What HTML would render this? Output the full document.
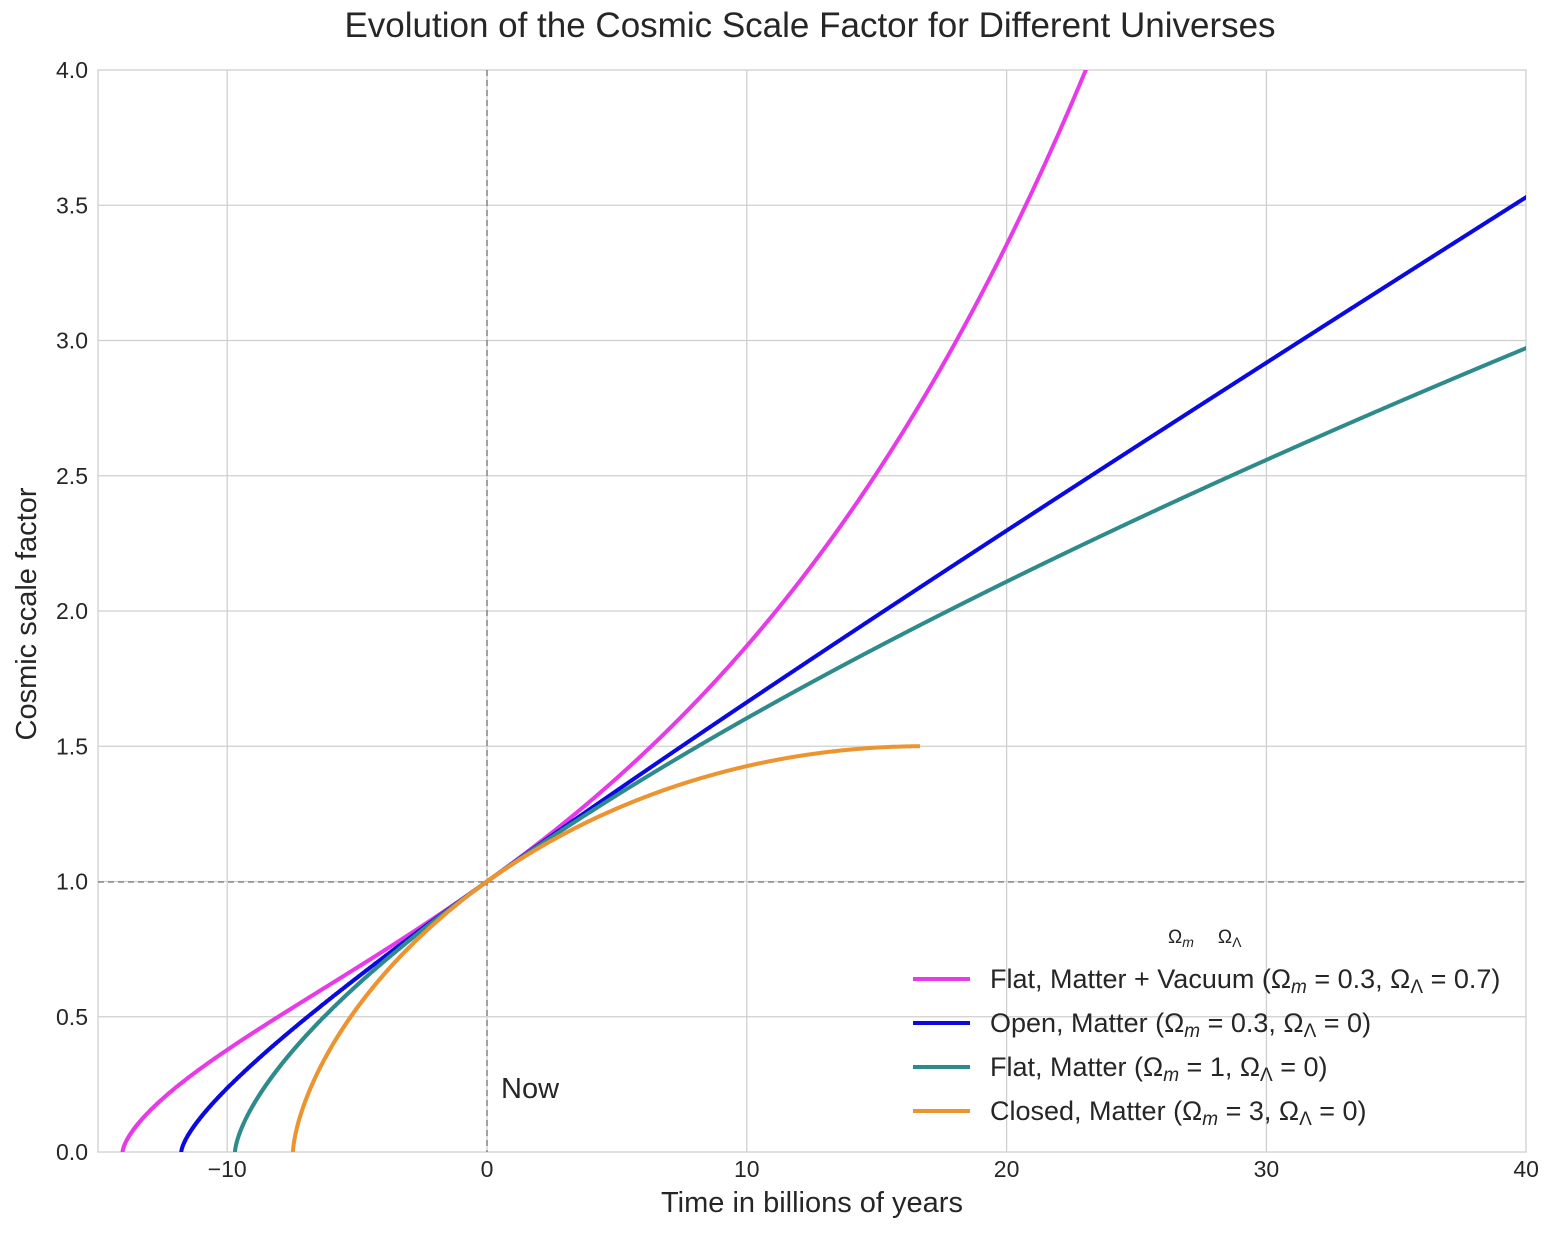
<!DOCTYPE html>
<html><head><meta charset="utf-8">
<style>
body{margin:0;background:#fff;}
svg text{font-family:"Liberation Sans","DejaVu Sans",sans-serif;fill:#262626;}
</style></head>
<body>
<svg id="s" width="1548" height="1234" xmlns="http://www.w3.org/2000/svg">
<rect width="1548" height="1234" fill="#fff"/>
<defs><clipPath id="c"><rect x="98" y="70" width="1428" height="1082"/></clipPath></defs>
<g id="grid" stroke="#cfcfcf" stroke-width="1.3"></g>
<rect x="98" y="70" width="1428" height="1082" fill="none" stroke="#cfcfcf" stroke-width="1.3"/>
<line x1="487" y1="70" x2="487" y2="1152" stroke="#777" stroke-width="1.3" stroke-dasharray="6,4"/>
<line x1="98" y1="882" x2="1526" y2="882" stroke="#777" stroke-width="1.3" stroke-dasharray="6,4"/>
<g id="curves" clip-path="url(#c)" fill="none" stroke-width="4" stroke-linejoin="round"></g>
<g id="ticks" font-size="23"></g>
<text x="810" y="37" font-size="35" text-anchor="middle">Evolution of the Cosmic Scale Factor for Different Universes</text>
<text x="812" y="1212" font-size="29" text-anchor="middle">Time in billions of years</text>
<text transform="translate(36,614) rotate(-90)" font-size="29" text-anchor="middle">Cosmic scale factor</text>
<text x="501" y="1098" font-size="29">Now</text>
<g font-size="27">
<text x="1168" y="943" font-size="19">Ω<tspan font-size="14" font-style="italic" dy="4">m</tspan><tspan dy="-4" dx="24">Ω</tspan><tspan font-size="14" dy="4">Λ</tspan></text>
<line x1="913" y1="979" x2="970" y2="979" stroke="#e83ae8" stroke-width="4"/>
<text x="990" y="988">Flat, Matter + Vacuum (Ω<tspan font-size="19" font-style="italic" dy="5">m</tspan><tspan dy="-5"> = 0.3, Ω</tspan><tspan font-size="19" dy="5">Λ</tspan><tspan dy="-5"> = 0.7)</tspan></text>
<line x1="913" y1="1023" x2="970" y2="1023" stroke="#0a0ae0" stroke-width="4"/>
<text x="990" y="1032">Open, Matter (Ω<tspan font-size="19" font-style="italic" dy="5">m</tspan><tspan dy="-5"> = 0.3, Ω</tspan><tspan font-size="19" dy="5">Λ</tspan><tspan dy="-5"> = 0)</tspan></text>
<line x1="913" y1="1067" x2="970" y2="1067" stroke="#2e8b8b" stroke-width="4"/>
<text x="990" y="1076">Flat, Matter (Ω<tspan font-size="19" font-style="italic" dy="5">m</tspan><tspan dy="-5"> = 1, Ω</tspan><tspan font-size="19" dy="5">Λ</tspan><tspan dy="-5"> = 0)</tspan></text>
<line x1="913" y1="1111" x2="970" y2="1111" stroke="#eb9430" stroke-width="4"/>
<text x="990" y="1120">Closed, Matter (Ω<tspan font-size="19" font-style="italic" dy="5">m</tspan><tspan dy="-5"> = 3, Ω</tspan><tspan font-size="19" dy="5">Λ</tspan><tspan dy="-5"> = 0)</tspan></text>
</g>
</svg>
<script>
var NS="http://www.w3.org/2000/svg";
function X(t){return 487+t*25.98;}
function Y(a){return 1152-a*270.5;}
var g=document.getElementById('grid'),tk=document.getElementById('ticks');
function el(p,n,at,txt){var e=document.createElementNS(NS,n);for(var k in at)e.setAttribute(k,at[k]);if(txt)e.textContent=txt;p.appendChild(e);}
[-10,0,10,20,30].forEach(function(t){el(g,'line',{x1:X(t),y1:70,x2:X(t),y2:1152});});
[0.5,1,1.5,2,2.5,3,3.5].forEach(function(a){el(g,'line',{x1:98,y1:Y(a),x2:1526,y2:Y(a)});});
[-10,0,10,20,30,40].forEach(function(t){el(tk,'text',{x:X(t),y:1177,'text-anchor':'middle'},(t<0?'\u2212'+(-t):''+t));});
[0,0.5,1,1.5,2,2.5,3,3.5,4].forEach(function(a){el(tk,'text',{x:88,y:Y(a)+8,'text-anchor':'end'},a.toFixed(1));});
var H0=2/(3*9.7);
function curve(om,ol,col,amax){
 var ok=1-om-ol;
 function f(a){var v=om/a+ok+ol*a*a;return v>0?1/(H0*Math.sqrt(v)):0;}
 var N=4000,a0=1e-5,tt=0,lst=[[1,0]];
 var h=(1-a0)/N;
 for(var i=0;i<N;i++){var a=1-i*h,b=a-h;tt-=h/6*(f(a)+4*f(a-h/2)+f(b));lst.push([b,tt]);}
 lst.reverse();
 var h2=(amax-1)/N;tt=0;
 for(var i=0;i<N;i++){var a=1+i*h2,b=a+h2;tt+=h2/6*(f(a)+4*f(a+h2/2)+f(b));lst.push([b,tt]);if(tt>45)break;}
 var d='';lst.forEach(function(p,i){d+=(i?'L':'M')+X(p[1]).toFixed(1)+','+Y(p[0]).toFixed(1);});
 el(document.getElementById('curves'),'path',{d:d,stroke:col});
}
curve(0.3,0.7,'#e83ae8',4.3);
curve(0.3,0,'#0a0ae0',4.3);
curve(1,0,'#2e8b8b',4.3);
curve(3,0,'#eb9430',1.49998);
</script>
</body></html>
